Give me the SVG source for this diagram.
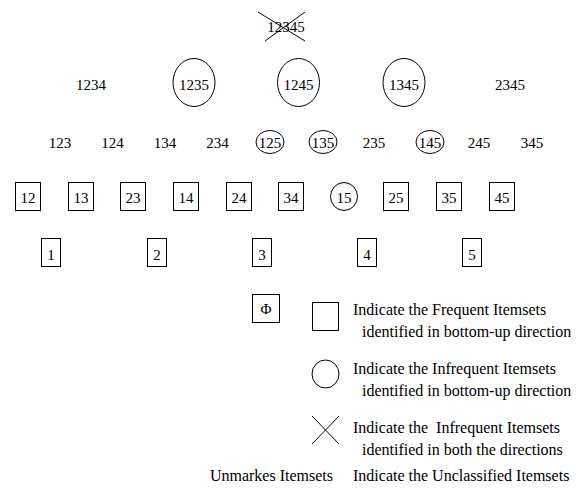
<svg xmlns="http://www.w3.org/2000/svg" width="583" height="494" viewBox="0 0 583 494">
<style>
text{font-family:"Liberation Serif","Times New Roman",serif;fill:#000}
.n{font-size:15px;text-anchor:middle}
.l{font-size:16px}
.s{fill:none;stroke:#000;stroke-width:1}
</style>
<rect width="583" height="494" fill="#fff"/>
<g id="n12345"><text class="n" x="286" y="32">12345</text><path class="s" d="M258 12L305 41M265 41L305 12"/></g>
<g id="n1234"><text class="n" x="91" y="90">1234</text></g>
<g id="n1235"><ellipse class="s" cx="194" cy="82.5" rx="21" ry="24"/><text class="n" x="194" y="90">1235</text></g>
<g id="n1245"><ellipse class="s" cx="298.5" cy="82.5" rx="21" ry="24"/><text class="n" x="298.5" y="90">1245</text></g>
<g id="n1345"><ellipse class="s" cx="404" cy="82.5" rx="21" ry="24"/><text class="n" x="404" y="90">1345</text></g>
<g id="n2345"><text class="n" x="510" y="90">2345</text></g>
<g id="n123"><text class="n" x="60" y="148">123</text></g>
<g id="n124"><text class="n" x="112.5" y="148">124</text></g>
<g id="n134"><text class="n" x="165" y="148">134</text></g>
<g id="n234"><text class="n" x="217.5" y="148">234</text></g>
<g id="n125"><ellipse class="s" cx="270" cy="142" rx="14" ry="11.5"/><text class="n" x="270" y="148">125</text></g>
<g id="n135"><ellipse class="s" cx="323" cy="142" rx="14" ry="11.5"/><text class="n" x="323" y="148">135</text></g>
<g id="n235"><text class="n" x="374" y="148">235</text></g>
<g id="n145"><ellipse class="s" cx="430" cy="142" rx="14" ry="11.5" stroke-width="1.3"/><text class="n" x="430" y="148">145</text></g>
<g id="n245"><text class="n" x="479" y="148">245</text></g>
<g id="n345"><text class="n" x="532" y="148">345</text></g>
<g id="n12"><rect class="s" x="15.5" y="182.5" width="25" height="28"/><text class="n" x="28" y="203">12</text></g>
<g id="n13"><rect class="s" x="68.5" y="182.5" width="25" height="28" stroke-width="1.4"/><text class="n" x="81" y="203">13</text></g>
<g id="n23"><rect class="s" x="120.5" y="182.5" width="25" height="28"/><text class="n" x="133" y="203">23</text></g>
<g id="n14"><rect class="s" x="173.5" y="182.5" width="25" height="28"/><text class="n" x="186" y="203">14</text></g>
<g id="n24"><rect class="s" x="226.5" y="182.5" width="25" height="28"/><text class="n" x="239" y="203">24</text></g>
<g id="n34"><rect class="s" x="278.5" y="182.5" width="25" height="28"/><text class="n" x="291" y="203">34</text></g>
<g id="n15"><ellipse class="s" cx="344" cy="196.5" rx="13.5" ry="14"/><text class="n" x="344" y="203">15</text></g>
<g id="n25"><rect class="s" x="383.5" y="182.5" width="25" height="28"/><text class="n" x="396" y="203">25</text></g>
<g id="n35"><rect class="s" x="436.5" y="182.5" width="25" height="28"/><text class="n" x="449" y="203">35</text></g>
<g id="n45"><rect class="s" x="489.5" y="182.5" width="25" height="28"/><text class="n" x="502" y="203">45</text></g>
<g id="n1"><rect class="s" x="41.5" y="238.5" width="19" height="28"/><text class="n" x="51" y="260">1</text></g>
<g id="n2"><rect class="s" x="147.5" y="238.5" width="19" height="28"/><text class="n" x="157" y="260">2</text></g>
<g id="n3"><rect class="s" x="252.5" y="238.5" width="19" height="28"/><text class="n" x="262" y="260">3</text></g>
<g id="n4"><rect class="s" x="357.5" y="238.5" width="19" height="28"/><text class="n" x="367" y="260">4</text></g>
<g id="n5"><rect class="s" x="462.5" y="238.5" width="19" height="28"/><text class="n" x="472" y="260">5</text></g>
<g id="nphi"><rect class="s" x="252.5" y="294.5" width="27" height="28"/><text class="n" x="266" y="314">Φ</text></g>
<g id="legend">
<rect class="s" x="312.5" y="302.5" width="26" height="28"/>
<text class="l" x="353" y="315">Indicate the Frequent Itemsets</text>
<text class="l" x="362" y="337">identified in bottom-up direction</text>
<ellipse class="s" cx="325.5" cy="374" rx="13.5" ry="14"/>
<text class="l" x="353" y="374">Indicate the Infrequent Itemsets</text>
<text class="l" x="362" y="396">identified in bottom-up direction</text>
<path class="s" d="M312 416L339 444M312 444L339 416"/>
<text class="l" x="353" y="433" xml:space="preserve">Indicate the  Infrequent Itemsets</text>
<text class="l" x="362" y="455">identified in both the directions</text>
<text class="l" x="333" y="481" text-anchor="end">Unmarkes Itemsets</text>
<text class="l" x="353" y="481">Indicate the Unclassified Itemsets</text>
</g>
<g id="connectors"></g>
</svg>
